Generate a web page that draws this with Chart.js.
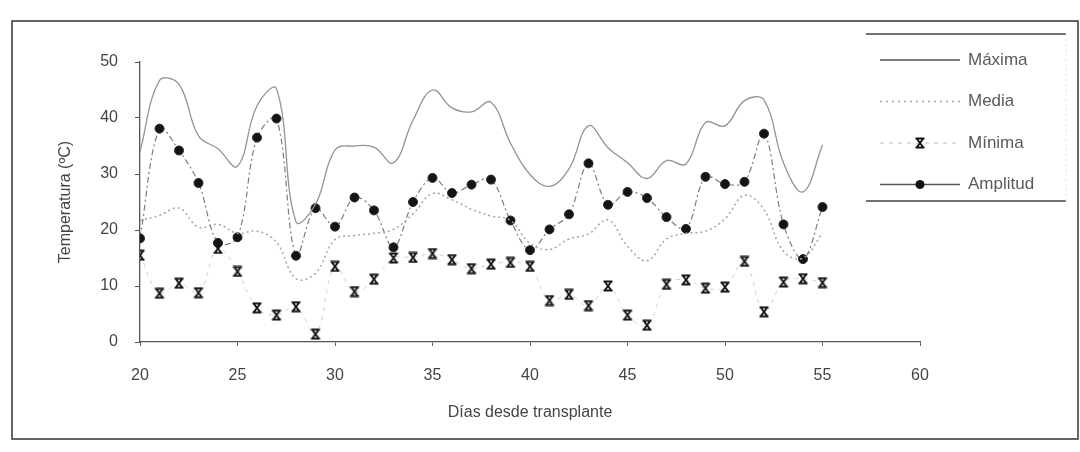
<!DOCTYPE html>
<html>
<head>
<meta charset="utf-8">
<script src="https://cdn.jsdelivr.net/npm/chart.js@4"></script>
<style>
  html, body { margin: 0; padding: 0; background: #fff; }
  #wrap { width: 1080px; height: 452px; position: relative; }
</style>
</head>
<body>
<div id="wrap"><canvas id="tempChart"></canvas></div>
<script>
// data
const dias = [20, 21, 22, 23, 24, 25, 26, 27, 28, 29, 30, 31, 32, 33, 34, 35, 36, 37,
              38, 39, 40, 41, 42, 43, 44, 45, 46, 47, 48, 49, 50, 51, 52, 53, 54, 55];
const maxima = [34.0, 46.7, 46.0, 36.8, 34.5, 31.4, 42.2, 45.2, 21.5, 24.6, 34.3, 35.0,
                34.8, 32.0, 39.6, 45.0, 41.8, 41.1, 42.8, 35.5, 29.9, 27.8, 30.9, 38.6,
                34.7, 32.0, 29.2, 32.4, 31.8, 39.2, 38.6, 43.1, 43.2, 32.0, 26.8, 35.2];
const media = [21.7, 22.6, 23.9, 20.5, 21.0, 19.4, 19.8, 17.8, 11.3, 12.3, 18.3, 19.0,
               19.4, 20.1, 22.9, 26.5, 25.4, 23.7, 22.5, 21.7, 17.6, 16.5, 18.4, 19.3,
               21.8, 17.1, 14.5, 18.4, 19.4, 19.8, 22.0, 26.2, 23.6, 16.2, 15.0, 19.5];
const minima = [15.5, 8.7, 10.5, 8.8, 16.7, 12.6, 6.1, 4.8, 6.3, 1.4, 13.5, 9.0,
                11.2, 15.0, 15.1, 15.8, 14.7, 13.1, 13.9, 14.2, 13.5, 7.4, 8.5, 6.5,
                10.0, 4.8, 3.0, 10.3, 11.1, 9.6, 9.8, 14.4, 5.4, 10.7, 11.3, 10.6];
const amplitud = [18.5, 38.1, 34.2, 28.4, 17.7, 18.7, 36.5, 39.9, 15.4, 23.9, 20.6, 25.8,
                  23.5, 16.9, 25.0, 29.3, 26.6, 28.1, 29.0, 21.7, 16.4, 20.1, 22.8, 31.9,
                  24.5, 26.8, 25.7, 22.3, 20.2, 29.5, 28.2, 28.6, 37.2, 21.0, 14.8, 24.1];
const seriesNames = ["Máxima", "Media", "Mínima", "Amplitud"];
const xTicks = [20, 25, 30, 35, 40, 45, 50, 55, 60];
const yTicks = [0, 10, 20, 30, 40, 50];

const FONT = "'Liberation Sans', Arial, sans-serif";
const pts = arr => dias.map((d, i) => ({ x: d, y: arr[i] }));

// the little "x with bars" marker used for the minimum
function hourglass() {
  const c = document.createElement("canvas");
  c.width = 12; c.height = 12;
  const g = c.getContext("2d");
  g.strokeStyle = "#151515";
  g.lineWidth = 2;
  g.beginPath();
  g.moveTo(1.5, 1.5); g.lineTo(10.5, 1.5);
  g.moveTo(1.5, 10.5); g.lineTo(10.5, 10.5);
  g.moveTo(3, 2); g.lineTo(9, 10);
  g.moveTo(9, 2); g.lineTo(3, 10);
  g.stroke();
  return c;
}
const minMarker = hourglass();

// outer frame of the figure
const framePlugin = {
  id: "frame",
  beforeDraw(chart) {
    const ctx = chart.ctx;
    ctx.save();
    ctx.fillStyle = "#fff";
    ctx.fillRect(0, 0, chart.width, chart.height);
    ctx.strokeStyle = "#333";
    ctx.lineWidth = 1.5;
    ctx.strokeRect(12, 21, 1066, 418);
    ctx.restore();
  }
};

// legend box at the top right, drawn like the spreadsheet one
const legendPlugin = {
  id: "boxLegend",
  afterDraw(chart) {
    const ctx = chart.ctx;
    ctx.save();
    ctx.strokeStyle = "#444";
    ctx.lineWidth = 1.5;
    ctx.beginPath();
    ctx.moveTo(866, 34); ctx.lineTo(1066, 34);
    ctx.moveTo(866, 201); ctx.lineTo(1066, 201);
    ctx.stroke();
    ctx.strokeStyle = "#e2e2e2";
    ctx.lineWidth = 1;
    ctx.setLineDash([2, 3]);
    ctx.beginPath();
    ctx.moveTo(1066, 34); ctx.lineTo(1066, 201);
    ctx.stroke();

    chart.data.datasets.forEach((ds, i) => {
      const y = 60 + i * 41.5;
      ctx.setLineDash(ds.legendDash || []);
      ctx.strokeStyle = ds.legendColor || ds.borderColor;
      ctx.lineWidth = 1.3;
      ctx.beginPath();
      ctx.moveTo(880, y); ctx.lineTo(960, y);
      ctx.stroke();
      ctx.setLineDash([]);
      if (ds.pointStyle instanceof HTMLCanvasElement) {
        ctx.drawImage(ds.pointStyle, 914, y - 6);
      } else if (ds.pointRadius > 0) {
        ctx.fillStyle = "#111";
        ctx.beginPath();
        ctx.arc(920, y, 4.5, 0, Math.PI * 2);
        ctx.fill();
      }
      ctx.fillStyle = "#5a5a5a";
      ctx.font = "17px " + FONT;
      ctx.textBaseline = "middle";
      ctx.fillText(ds.label, 968, y);
    });
    ctx.restore();
  }
};

new Chart(document.getElementById("tempChart"), {
  type: "line",
  data: {
    datasets: [
      {
        label: seriesNames[0],
        data: pts(maxima),
        borderColor: "#939393",
        borderWidth: 1.3,
        tension: 0.4,
        pointRadius: 0,
        legendColor: "#555"
      },
      {
        label: seriesNames[1],
        data: pts(media),
        borderColor: "#a4a4a4",
        borderWidth: 1.5,
        borderDash: [2, 3],
        legendDash: [2, 4],
        tension: 0.4,
        pointRadius: 0
      },
      {
        label: seriesNames[2],
        data: pts(minima),
        borderColor: "#d2d2d2",
        borderWidth: 1,
        borderDash: [4, 5],
        legendDash: [4, 5],
        tension: 0.4,
        pointStyle: minMarker,
        pointRadius: 6
      },
      {
        label: seriesNames[3],
        data: pts(amplitud),
        borderColor: "#7c7c7c",
        borderWidth: 1.2,
        borderDash: [6, 3, 2, 3],
        legendColor: "#555",
        tension: 0.35,
        pointStyle: "circle",
        pointRadius: 4.5,
        pointBackgroundColor: "#141414",
        pointBorderColor: "#2a2a2a",
        pointBorderWidth: 1
      }
    ]
  },
  options: {
    responsive: true,
    maintainAspectRatio: false,
    animation: false,
    layout: { padding: { left: 52, right: 160, top: 62, bottom: 26 } },
    plugins: {
      legend: { display: false },
      tooltip: { enabled: false }
    },
    scales: {
      x: {
        type: "linear",
        min: 20,
        max: 60,
        afterBuildTicks: s => { s.ticks = xTicks.map(v => ({ value: v })); },
        afterFit: s => { s.height = 84; },
        grid: { drawOnChartArea: false, drawTicks: true, tickLength: 4, color: "#666" },
        border: { display: true, color: "#555", width: 1.3 },
        ticks: { color: "#444", font: { family: FONT, size: 16 }, padding: 20 },
        title: {
          display: true,
          text: "Días desde transplante",
          color: "#444",
          font: { family: FONT, size: 16 },
          padding: { top: 2 }
        }
      },
      y: {
        min: 0,
        max: 50,
        afterBuildTicks: s => { s.ticks = yTicks.map(v => ({ value: v })); },
        afterFit: s => { s.width = 88; },
        grid: { drawOnChartArea: false, drawTicks: true, tickLength: 5, color: "#555" },
        border: { display: true, color: "#555", width: 1.3 },
        ticks: { color: "#444", font: { family: FONT, size: 16 }, padding: 17 },
        title: {
          display: true,
          text: "Temperatura (ºC)",
          color: "#444",
          font: { family: FONT, size: 16 }
        }
      }
    }
  },
  plugins: [framePlugin, legendPlugin]
});
</script>
</body>
</html>
